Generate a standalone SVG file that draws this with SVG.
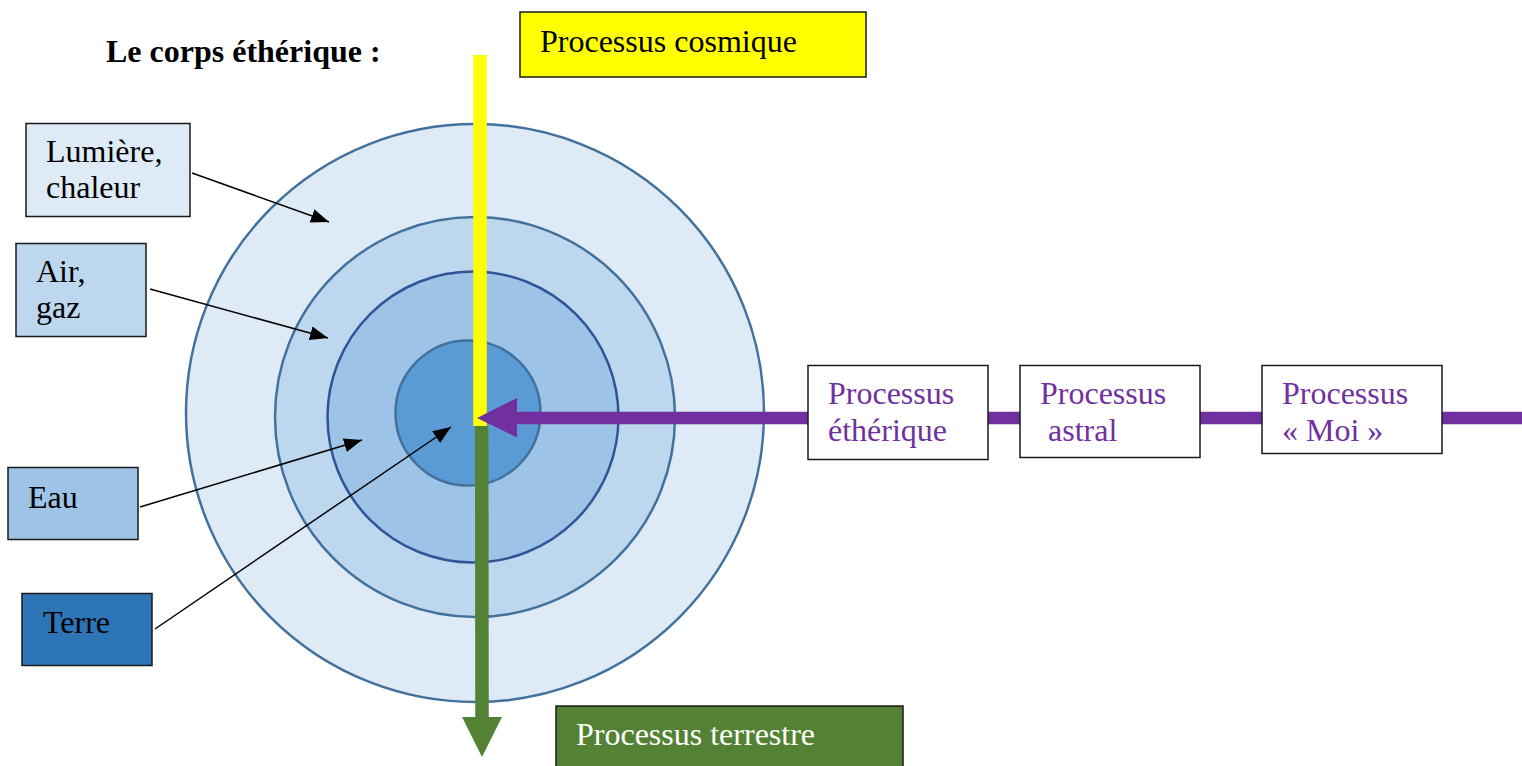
<svg xmlns="http://www.w3.org/2000/svg" width="1522" height="766" viewBox="0 0 1522 766">
<style>
  .t{font-family:"Liberation Serif","Times New Roman",serif;font-size:32px;fill:#000}
  .p{fill:#7030A0}
  .w{fill:#fff}
  .box{stroke:#1a1a1a;stroke-width:1.5}
  .ring{stroke:#41719C;stroke-width:2.5}
  .lead{stroke:#000;stroke-width:1.5;fill:none;marker-end:url(#ah)}
</style>
<defs>
  <marker id="ah" markerUnits="userSpaceOnUse" markerWidth="20" markerHeight="16" viewBox="0 0 20 16" refX="18" refY="8" orient="auto">
    <path d="M0,1 L18,8 L0,15 Z" fill="#000"/>
  </marker>
</defs>
<rect width="1522" height="766" fill="#fff"/>

<g id="title"><text class="t" x="106" y="62" font-weight="bold">Le corps éthérique :</text></g>

<g id="rings">
  <circle cx="475" cy="413" r="289" fill="#DEEAF6" class="ring"/>
  <circle cx="475" cy="417" r="200" fill="#BDD7EE" class="ring"/>
  <circle cx="473" cy="417" r="145.5" fill="#9DC3E6" stroke="#2F5597" stroke-width="2.5"/>
  <circle cx="468" cy="413" r="72.5" fill="#5B9BD5" class="ring"/>
</g>

<g id="connectors">
  <line x1="480" y1="55" x2="480" y2="426" stroke="#FFFF00" stroke-width="13.5"/>
  <path d="M481.7,426 L482,718" stroke="#548235" stroke-width="13.5" fill="none"/>
  <polygon points="462,717 502,717 482,757" fill="#548235"/>
  <line x1="1522" y1="418" x2="515" y2="418" stroke="#7030A0" stroke-width="12.5"/>
  <polygon points="517,398 517,437.5 477,418" fill="#7030A0"/>
  <line class="lead" x1="192" y1="173" x2="329" y2="222"/>
  <line class="lead" x1="150" y1="289" x2="328" y2="338"/>
  <line class="lead" x1="140" y1="507" x2="362" y2="440"/>
  <line class="lead" x1="155" y1="629" x2="451" y2="427"/>
</g>

<g id="cosmique">
  <rect class="box" x="520" y="12" width="346" height="65" fill="#FFFF00"/>
  <text class="t" x="540" y="52">Processus cosmique</text>
</g>

<g id="lumiere">
  <rect class="box" x="26" y="123.5" width="164" height="93" fill="#DEEAF6"/>
  <text class="t" x="46" y="162">Lumière,</text>
  <text class="t" x="46" y="198">chaleur</text>
</g>

<g id="air">
  <rect class="box" x="16" y="243.5" width="130" height="93" fill="#BDD7EE"/>
  <text class="t" x="36" y="282">Air,</text>
  <text class="t" x="36" y="318">gaz</text>
</g>

<g id="eau">
  <rect class="box" x="8" y="467.5" width="130" height="72" fill="#9DC3E6"/>
  <text class="t" x="28" y="508">Eau</text>
</g>

<g id="terre">
  <rect class="box" x="22" y="593.5" width="130" height="72" fill="#2E75B6"/>
  <text class="t" x="43" y="633">Terre</text>
</g>

<g id="terrestre">
  <rect class="box" x="556" y="706" width="347" height="70" fill="#548235"/>
  <text class="t w" x="576" y="745">Processus terrestre</text>
</g>

<g id="etherique">
  <rect class="box" x="808" y="365.5" width="180" height="94" fill="#fff"/>
  <text class="t p" x="828" y="404">Processus</text>
  <text class="t p" x="828" y="441">éthérique</text>
</g>

<g id="astral">
  <rect class="box" x="1020" y="365.5" width="180" height="92" fill="#fff"/>
  <text class="t p" x="1040" y="404">Processus</text>
  <text class="t p" x="1048" y="441">astral</text>
</g>

<g id="moi">
  <rect class="box" x="1262" y="365.5" width="180" height="88" fill="#fff"/>
  <text class="t p" x="1282" y="404">Processus</text>
  <text class="t p" x="1282" y="441">« Moi »</text>
</g>
</svg>
